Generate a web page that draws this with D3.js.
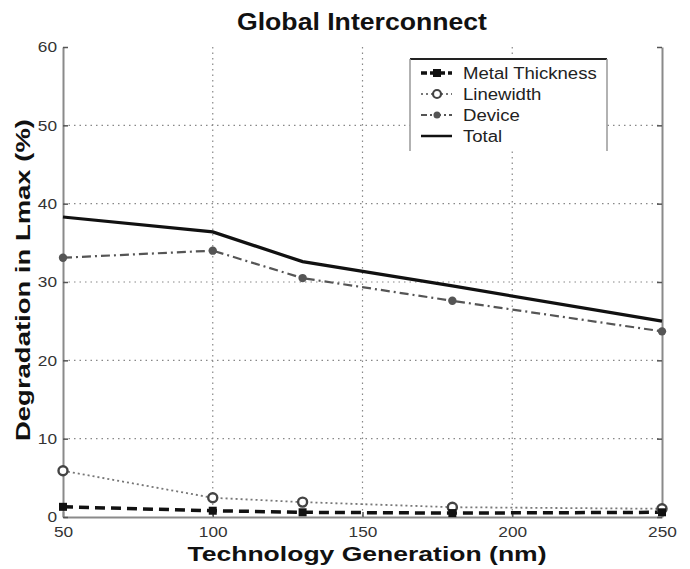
<!DOCTYPE html>
<html><head><meta charset="utf-8">
<script src="https://cdn.jsdelivr.net/npm/d3@7"></script>
<style>body{margin:0;background:#fff}svg{display:block}</style>
</head><body>
<svg id="chart" width="690" height="569"></svg>
<script>
// Degradation of Lmax per technology generation, global interconnect
const generations = [50, 100, 130, 180, 250];
const metalThickness = [1.3, 0.8, 0.6, 0.5, 0.6];
const linewidth = [5.9, 2.45, 1.9, 1.25, 1.05];
const device = [33.1, 34.0, 30.5, 27.6, 23.7];
const total = [38.3, 36.4, 32.6, 29.5, 25.0];
const xTicks = [50, 100, 150, 200, 250];
const yTicks = [0, 10, 20, 30, 40, 50, 60];
const seriesNames = ["Metal Thickness", "Linewidth", "Device", "Total"];

const FONT = "Liberation Sans, Arial, sans-serif";
const svg = d3.select("#chart");
const plotL = 63, plotR = 662, plotT = 47, plotB = 517;
const x = d3.scaleLinear().domain([50, 250]).range([plotL, plotR]);
const y = d3.scaleLinear().domain([0, 60]).range([plotB, plotT]);

// widen text horizontally by a factor
function widen(sel, k) {
  sel.each(function () {
    const w = this.getComputedTextLength();
    d3.select(this).attr("textLength", w * k).attr("lengthAdjust", "spacingAndGlyphs");
  });
}

// grid
const grid = svg.append("g");
grid.selectAll("line.gx").data(xTicks.filter(d => d > 50 && d < 250)).join("line")
  .attr("x1", d => x(d)).attr("x2", d => x(d)).attr("y1", plotT).attr("y2", plotB)
  .attr("stroke", "#888").attr("stroke-width", 1.2).attr("stroke-dasharray", "1.5,4");
grid.selectAll("line.gy").data(yTicks.filter(d => d > 0 && d < 60)).join("line")
  .attr("x1", plotL).attr("x2", plotR).attr("y1", d => y(d)).attr("y2", d => y(d))
  .attr("stroke", "#888").attr("stroke-width", 1.2).attr("stroke-dasharray", "1.5,4");

// axes
const xAxis = d3.axisBottom(x).tickValues(xTicks).tickSizeInner(-5).tickSizeOuter(0).tickPadding(9);
const yAxis = d3.axisLeft(y).tickValues(yTicks).tickSizeInner(-5).tickSizeOuter(0).tickPadding(6);
const gx = svg.append("g").attr("transform", `translate(0,${plotB})`).call(xAxis);
const gy = svg.append("g").attr("transform", `translate(${plotL},0)`).call(yAxis);
const gy2 = svg.append("g").attr("transform", `translate(${plotR},0)`)
  .call(d3.axisRight(y).tickValues(yTicks).tickSizeInner(-5).tickSizeOuter(0).tickFormat(""));
[gx, gy, gy2].forEach(g => {
  g.select(".domain").attr("stroke", "#8a8a8a").attr("stroke-width", 2);
  g.selectAll(".tick line").attr("stroke", "#555").attr("stroke-width", 1.5);
  g.selectAll(".tick text").attr("fill", "#333").attr("font-family", FONT).attr("font-size", 15);
});
widen(gx.selectAll(".tick text"), 1.15);
widen(gy.selectAll(".tick text"), 1.15);

const pts = vals => vals.map((v, i) => [generations[i], v]);
const line = d3.line().x(d => x(d[0])).y(d => y(d[1]));

// series lines
svg.append("path").attr("d", line(pts(linewidth))).attr("fill", "none")
  .attr("stroke", "#777").attr("stroke-width", 1.8).attr("stroke-dasharray", "2,3");
svg.append("path").attr("d", line(pts(device))).attr("fill", "none")
  .attr("stroke", "#555").attr("stroke-width", 2.2).attr("stroke-dasharray", "9,4,2,4");
svg.append("path").attr("d", line(pts(total))).attr("fill", "none")
  .attr("stroke", "#111").attr("stroke-width", 3.2);
svg.append("path").attr("d", line(pts(metalThickness))).attr("fill", "none")
  .attr("stroke", "#111").attr("stroke-width", 3.5).attr("stroke-dasharray", "10,6");

// markers
svg.append("g").selectAll("circle").data(pts(linewidth)).join("circle")
  .attr("cx", d => x(d[0])).attr("cy", d => y(d[1])).attr("r", 4.5)
  .attr("fill", "#fff").attr("stroke", "#444").attr("stroke-width", 2.4);
svg.append("g").selectAll("circle").data(pts(device)).join("circle")
  .attr("cx", d => x(d[0])).attr("cy", d => y(d[1])).attr("r", 4.2)
  .attr("fill", "#555");
svg.append("g").selectAll("rect").data(pts(metalThickness)).join("rect")
  .attr("x", d => x(d[0]) - 4).attr("y", d => y(d[1]) - 4).attr("width", 8).attr("height", 8)
  .attr("fill", "#111");

// legend
const lg = svg.append("g");
const lx0 = 410, lx1 = 607, ly0 = 59, ly1 = 151;
lg.append("rect").attr("x", lx0).attr("y", ly0).attr("width", lx1 - lx0).attr("height", ly1 - ly0)
  .attr("fill", "#fff").attr("stroke", "none");
lg.append("line").attr("x1", lx0).attr("x2", lx1).attr("y1", ly0).attr("y2", ly0)
  .attr("stroke", "#222").attr("stroke-width", 2);
[lx0, lx1].forEach(xx => lg.append("line").attr("x1", xx).attr("x2", xx).attr("y1", ly0).attr("y2", ly1)
  .attr("stroke", "#999").attr("stroke-width", 1.5));
const legendY = [73, 94, 115, 136];
const styles = [
  {stroke: "#111", w: 3.5, dash: "6,3"},
  {stroke: "#777", w: 1.8, dash: "2,3"},
  {stroke: "#555", w: 2.2, dash: "6,3,2,3"},
  {stroke: "#111", w: 2.5, dash: null}
];
seriesNames.forEach((name, i) => {
  const yy = legendY[i];
  const l = lg.append("line").attr("x1", 421).attr("x2", 452).attr("y1", yy).attr("y2", yy)
    .attr("stroke", styles[i].stroke).attr("stroke-width", styles[i].w);
  if (styles[i].dash) l.attr("stroke-dasharray", styles[i].dash);
  if (i === 0) lg.append("rect").attr("x", 433).attr("y", yy - 4).attr("width", 8).attr("height", 8).attr("fill", "#111");
  if (i === 1) lg.append("circle").attr("cx", 437).attr("cy", yy).attr("r", 4).attr("fill", "#fff")
    .attr("stroke", "#444").attr("stroke-width", 2.2);
  if (i === 2) lg.append("circle").attr("cx", 437).attr("cy", yy).attr("r", 3.5).attr("fill", "#555");
  const t = lg.append("text").attr("x", 463).attr("y", yy + 5.5).text(name)
    .attr("font-family", FONT).attr("font-size", 16).attr("fill", "#222");
  widen(t, 1.16);
});

// titles
svg.append("text").attr("x", 362).attr("y", 30).attr("text-anchor", "middle")
  .attr("font-family", FONT).attr("font-weight", "bold")
  .attr("font-size", 23).attr("fill", "#111").text("Global Interconnect")
  .attr("textLength", 250).attr("lengthAdjust", "spacingAndGlyphs");
svg.append("text").attr("x", 367).attr("y", 561).attr("text-anchor", "middle")
  .attr("font-family", FONT).attr("font-weight", "bold")
  .attr("font-size", 21).attr("fill", "#111").text("Technology Generation (nm)")
  .attr("textLength", 359).attr("lengthAdjust", "spacingAndGlyphs");
svg.append("text").attr("transform", "translate(30,280) rotate(-90)").attr("text-anchor", "middle")
  .attr("font-family", FONT).attr("font-weight", "bold")
  .attr("font-size", 21).attr("fill", "#111").text("Degradation in Lmax (%)")
  .attr("textLength", 322).attr("lengthAdjust", "spacingAndGlyphs");
</script>
</body></html>
